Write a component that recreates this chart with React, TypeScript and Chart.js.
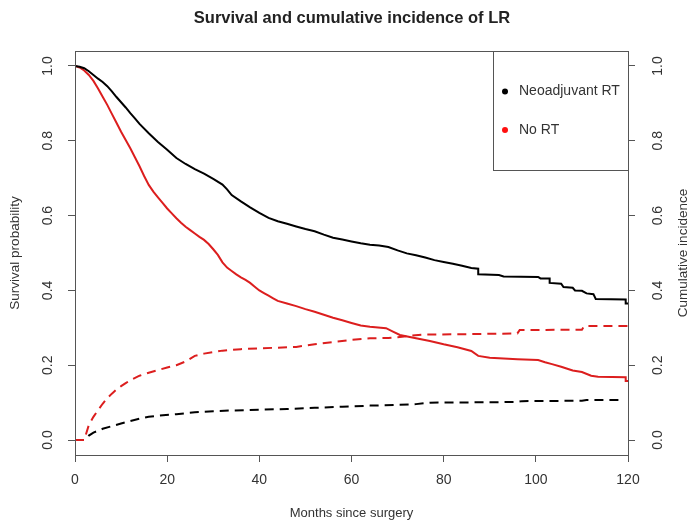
import React, { useEffect, useRef } from "react";
import { Chart, registerables } from "chart.js";

Chart.register(...registerables);

// ---------- data ----------
const chartTitle = "Survival and cumulative incidence of LR";
const xTitle = "Months since surgery";
const yLeftTitle = "Survival probability";
const yRightTitle = "Cumulative incidence";
const seriesNames = ["Neoadjuvant RT", "No RT"];

const xTicks = [0, 20, 40, 60, 80, 100, 120];
const yTicks = [0, 0.2, 0.4, 0.6, 0.8, 1.0];

// Survival, neoadjuvant RT (black solid); repeated months mark visible drops
const rtSurvT = [0,1,2,3,4,5,6,7,8,9,10,11,12,13,14,16,18,20,22,24,26,28,30,32,33,34,36,38,40,42,44,46,48,50,52,54,56,58,60,62,64,66,68,70,72,74,76,78,80,82,84,86,87.5,87.5,92,93,100.5,101,103,103,105.5,106,108,108.5,110,111,112.5,113,119.5,119.5,120];
const rtSurvV = [1.0,0.998,0.994,0.986,0.976,0.966,0.957,0.946,0.932,0.917,0.903,0.889,0.874,0.86,0.845,0.82,0.797,0.776,0.754,0.738,0.724,0.712,0.698,0.683,0.67,0.655,0.638,0.622,0.607,0.594,0.585,0.578,0.571,0.564,0.558,0.549,0.541,0.536,0.531,0.526,0.522,0.52,0.516,0.507,0.499,0.494,0.488,0.481,0.476,0.471,0.466,0.46,0.458,0.443,0.441,0.437,0.436,0.432,0.432,0.42,0.418,0.409,0.407,0.4,0.399,0.392,0.39,0.377,0.376,0.365,0.365];

// Survival, no RT (red solid)
const noSurvT = [0,1,2,3,4,5,6,7,8,9,10,11,12,13,14,15,16,17,18,19,20,21,22,23,24,25,26,27,28,29,30,31,32,33,34,35,36,37,38,39,40,41,42,43,44,46,48,50,52,54,56,58,60,62,64,67.5,69,70.5,74,77,80,83,86,87.5,90,96,100.5,102,103.5,105.5,107,108,110,112,113.5,119.5,119.5,120];
const noSurvV = [1.0,0.996,0.988,0.976,0.96,0.94,0.918,0.896,0.872,0.848,0.824,0.802,0.78,0.756,0.732,0.706,0.682,0.664,0.649,0.634,0.619,0.606,0.593,0.581,0.57,0.561,0.552,0.543,0.535,0.524,0.51,0.495,0.475,0.461,0.452,0.443,0.435,0.428,0.42,0.41,0.4,0.393,0.386,0.379,0.372,0.365,0.358,0.35,0.343,0.335,0.327,0.32,0.313,0.306,0.303,0.299,0.29,0.281,0.272,0.265,0.256,0.248,0.238,0.225,0.22,0.216,0.214,0.208,0.203,0.196,0.19,0.186,0.182,0.172,0.169,0.168,0.158,0.158];

// Cumulative incidence, no RT (red dashed)
const noCifT = [0,2,2.5,3,4,5,6,7,8,9,10,11,12,14,16,18,20,22,24,26,28,30,32,36,40,44,48,52,56,60,64,68,70,73,76,85,96,96.5,110,110.5,120];
const noCifV = [0,0,0.02,0.04,0.062,0.08,0.097,0.112,0.124,0.135,0.144,0.152,0.16,0.172,0.18,0.187,0.194,0.2,0.21,0.225,0.231,0.235,0.239,0.243,0.245,0.247,0.249,0.256,0.262,0.268,0.272,0.273,0.275,0.279,0.282,0.283,0.285,0.294,0.295,0.305,0.305];

// Cumulative incidence, neoadjuvant RT (black dashed)
const rtCifT = [0,2,3,4,6,8,10,12,14,16,18,22,26,30,34,40,46,52,58,64,70,74,77,90,96,97,110,111,118.5];
const rtCifV = [0,0,0.012,0.02,0.03,0.037,0.044,0.051,0.057,0.062,0.065,0.069,0.074,0.077,0.079,0.081,0.083,0.086,0.089,0.092,0.094,0.096,0.1,0.101,0.102,0.104,0.105,0.107,0.107];

const BLACK = "#000000";
const RED = "#dc1e1e";
const AXIS = "#555555";
const TEXT = "#333333";
const FONT = "'Liberation Sans', Arial, Helvetica, sans-serif";

const pts = (t: number[], v: number[]) => t.map((x, i) => ({ x, y: v[i] }));

export default function App() {
  const ref = useRef<HTMLCanvasElement | null>(null);

  useEffect(() => {
    if (!ref.current) return;

    const overlay = {
      id: "rstyle",
      afterDraw(chart: any) {
        const { ctx, chartArea: ca, scales } = chart;
        ctx.save();
        // plot frame
        ctx.strokeStyle = AXIS;
        ctx.lineWidth = 1;
        ctx.strokeRect(Math.round(ca.left) + 0.5, Math.round(ca.top) + 0.5, Math.round(ca.right - ca.left), Math.round(ca.bottom - ca.top));

        // rotated y tick labels (left and right)
        ctx.fillStyle = TEXT;
        ctx.font = `14px ${FONT}`;
        ctx.textAlign = "center";
        ctx.textBaseline = "middle";
        const drawRot = (txt: string, x: number, y: number) => {
          ctx.save();
          ctx.translate(x, y);
          ctx.rotate(-Math.PI / 2);
          ctx.fillText(txt, 0, 0);
          ctx.restore();
        };
        for (const v of yTicks) {
          drawRot(v.toFixed(1), 48, scales.y.getPixelForValue(v));
          drawRot(v.toFixed(1), 658, scales.y2.getPixelForValue(v));
        }

        // axis titles
        ctx.font = `13.5px ${FONT}`;
        const midY = (ca.top + ca.bottom) / 2;
        drawRot(yLeftTitle, 15, midY);
        drawRot(yRightTitle, 683, midY);
        ctx.font = `13px ${FONT}`;
        ctx.fillText(xTitle, (ca.left + ca.right) / 2, 513);

        // main title
        ctx.font = `bold 16.5px ${FONT}`;
        ctx.fillStyle = "#222222";
        ctx.fillText(chartTitle, 352, 18);

        // legend
        const lx = 493, ly = Math.round(ca.top), lw = Math.round(ca.right) - 493, lh = 119;
        ctx.fillStyle = "#ffffff";
        ctx.fillRect(lx + 0.5, ly + 0.5, lw, lh);
        ctx.strokeStyle = AXIS;
        ctx.strokeRect(lx + 0.5, ly + 0.5, lw, lh);
        const legendCols = [BLACK, "#ff1010"];
        const legendY = [91.5, 130];
        ctx.font = `14px ${FONT}`;
        ctx.textAlign = "left";
        seriesNames.forEach((name, i) => {
          ctx.fillStyle = legendCols[i];
          ctx.beginPath();
          ctx.arc(505, legendY[i], 3, 0, Math.PI * 2);
          ctx.fill();
          ctx.fillStyle = TEXT;
          ctx.fillText(name, 519, legendY[i]);
        });
        ctx.restore();
      },
    };

    const chart = new Chart(ref.current, {
      type: "line",
      data: {
        datasets: [
          { label: "Neoadjuvant RT survival", data: pts(rtSurvT, rtSurvV), borderColor: BLACK, borderWidth: 2, pointRadius: 0, tension: 0, yAxisID: "y" },
          { label: "No RT survival", data: pts(noSurvT, noSurvV), borderColor: RED, borderWidth: 2, pointRadius: 0, tension: 0, yAxisID: "y" },
          { label: "No RT incidence", data: pts(noCifT, noCifV), borderColor: RED, borderWidth: 2, borderDash: [9, 6], pointRadius: 0, tension: 0, yAxisID: "y2" },
          { label: "Neoadjuvant RT incidence", data: pts(rtCifT, rtCifV), borderColor: BLACK, borderWidth: 2, borderDash: [9, 6], pointRadius: 0, tension: 0, yAxisID: "y2" },
        ],
      },
      options: {
        responsive: false,
        animation: false,
        layout: { padding: { top: 51, left: 0, right: 0, bottom: 0 } },
        plugins: { legend: { display: false }, title: { display: false }, tooltip: { enabled: false } },
        scales: {
          x: {
            type: "linear",
            min: 0,
            max: 120,
            afterBuildTicks: (s: any) => { s.ticks = xTicks.map((v) => ({ value: v })); },
            afterFit: (s: any) => { s.height = 70; },
            grid: { drawOnChartArea: false, drawTicks: true, tickLength: 7, color: AXIS, lineWidth: 1 },
            border: { display: false },
            ticks: { color: TEXT, font: { size: 14, family: FONT }, padding: 10, maxRotation: 0, callback: (v: any) => String(v) },
          },
          y: {
            type: "linear",
            position: "left",
            min: -0.04,
            max: 1.04,
            afterBuildTicks: (s: any) => { s.ticks = yTicks.map((v) => ({ value: v })); },
            afterFit: (s: any) => { s.width = 75; },
            grid: { drawOnChartArea: false, drawTicks: true, tickLength: 7, color: AXIS, lineWidth: 1 },
            border: { display: false },
            ticks: { display: false },
          },
          y2: {
            type: "linear",
            position: "right",
            min: -0.04,
            max: 1.04,
            afterBuildTicks: (s: any) => { s.ticks = yTicks.map((v) => ({ value: v })); },
            afterFit: (s: any) => { s.width = 62; },
            grid: { drawOnChartArea: false, drawTicks: true, tickLength: 7, color: AXIS, lineWidth: 1 },
            border: { display: false },
            ticks: { display: false },
          },
        },
      },
      plugins: [overlay],
    } as any);

    return () => chart.destroy();
  }, []);

  return (
    <div style={{ position: "absolute", left: 0, top: 0, width: 690, height: 525, background: "#ffffff" }}>
      <canvas ref={ref} width={690} height={525} style={{ display: "block" }} />
    </div>
  );
}
